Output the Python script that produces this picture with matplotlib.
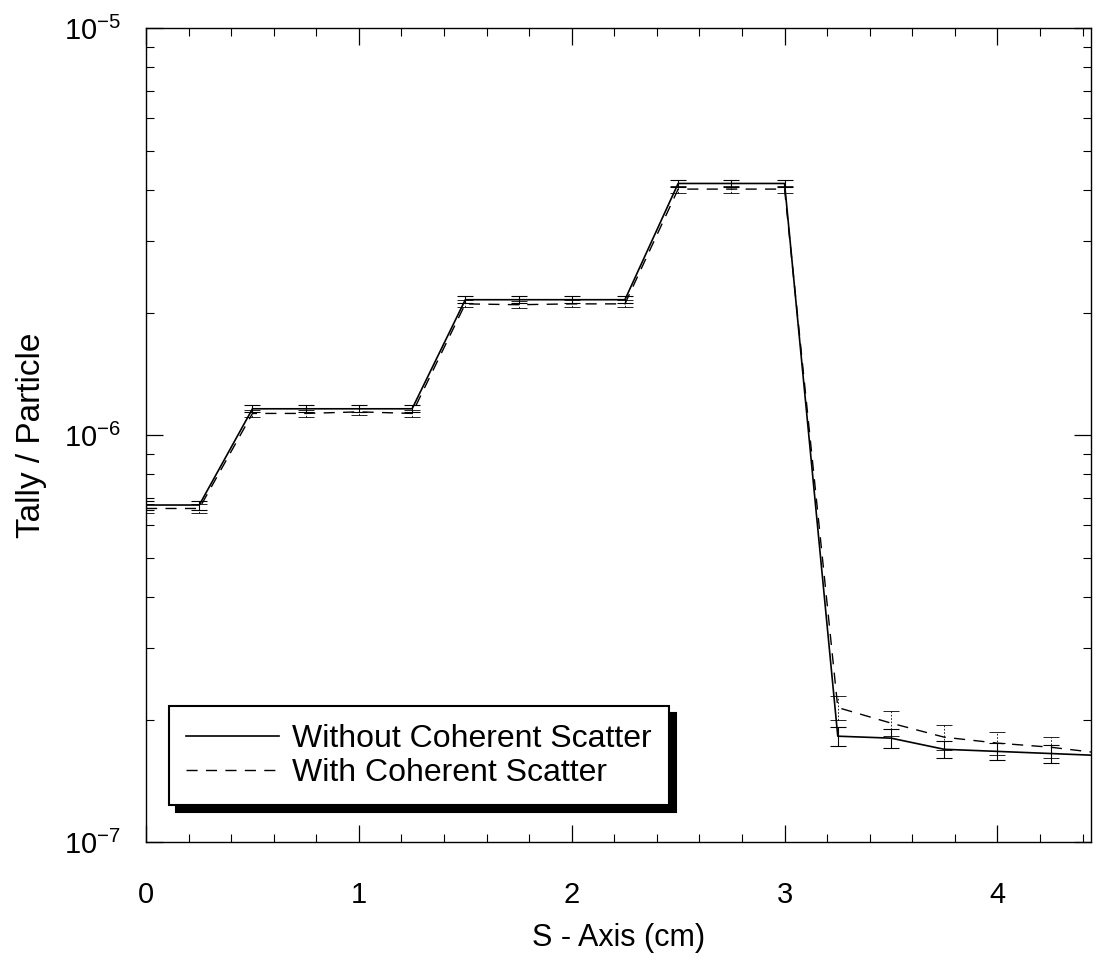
import numpy as np
import matplotlib
matplotlib.use("Agg")
import matplotlib.pyplot as plt
from matplotlib.ticker import FixedLocator, MultipleLocator, LogLocator, NullFormatter

plt.rcParams['font.family'] = ['Liberation Sans', 'DejaVu Sans']
plt.rcParams['mathtext.fontset'] = 'custom'
plt.rcParams['mathtext.rm'] = 'Liberation Sans'
plt.rcParams['mathtext.it'] = 'Liberation Sans'
plt.rcParams['axes.unicode_minus'] = False

# S-axis positions (cm)
s_pos = [0.0, 0.25, 0.5, 0.75, 1.0, 1.25, 1.5, 1.75, 2.0, 2.25,
         2.5, 2.75, 3.0, 3.25, 3.5, 3.75, 4.0, 4.25, 4.5]

# Tally / particle
tally_without = [6.73e-7, 6.73e-7, 1.16e-6, 1.16e-6, 1.16e-6, 1.16e-6,
                 2.15e-6, 2.15e-6, 2.15e-6, 2.15e-6,
                 4.15e-6, 4.15e-6, 4.15e-6,
                 1.82e-7, 1.80e-7, 1.69e-7, 1.67e-7, 1.65e-7, 1.63e-7]
tally_with = [6.60e-7, 6.60e-7, 1.13e-6, 1.13e-6, 1.14e-6, 1.13e-6,
              2.10e-6, 2.09e-6, 2.10e-6, 2.10e-6,
              4.02e-6, 4.02e-6, 4.02e-6,
              2.14e-7, 1.96e-7, 1.81e-7, 1.75e-7, 1.71e-7, 1.65e-7]

# relative errors
rel_err_without = [0.025, 0.025, 0.02, 0.02, 0.02, 0.02,
                   0.02, 0.02, 0.02, 0.02,
                   0.02, 0.02, 0.02,
                   0.055, 0.055, 0.05, 0.05, 0.05, 0.05]
rel_err_with = [0.025, 0.025, 0.02, 0.02, 0.02, 0.02,
                0.02, 0.02, 0.02, 0.02,
                0.02, 0.02, 0.02,
                0.07, 0.07, 0.07, 0.065, 0.06, 0.06]

labels = ["Without Coherent Scatter", "With Coherent Scatter"]

x = np.array(s_pos)
y1 = np.array(tally_without)
y2 = np.array(tally_with)
e1 = y1 * np.array(rel_err_without)
e2 = y2 * np.array(rel_err_with)

fig = plt.figure(figsize=(10.94, 9.56), dpi=100)
ax = fig.add_axes([0.1335, 0.1192, 0.8638, 0.8515])

l1 = ax.errorbar(x, y1, yerr=e1, color='black', lw=1.2, elinewidth=0.8,
                 capsize=6, capthick=0.8, label=labels[0])
l2 = ax.errorbar(x, y2, yerr=e2, color='black', lw=1.0, ls=(0, (8, 6)),
                 elinewidth=0.6, capsize=6, capthick=0.6, label=labels[1])
l2[2][0].set_linestyle((0, (2, 2)))

ax.set_yscale('log')
ax.set_xlim(0, 4.44)
ax.set_ylim(1e-7, 1e-5)

ax.xaxis.set_major_locator(FixedLocator([0, 1, 2, 3, 4]))
ax.xaxis.set_minor_locator(MultipleLocator(0.2))
ax.yaxis.set_major_locator(FixedLocator([1e-7, 1e-6, 1e-5]))
ax.yaxis.set_minor_locator(LogLocator(base=10, subs=np.arange(2, 10)))
ax.yaxis.set_minor_formatter(NullFormatter())
ax.set_yticklabels([r'$10^{-7}$', r'$10^{-6}$', r'$10^{-5}$'])

ax.tick_params(which='both', direction='in', top=True, right=True, labelsize=21)
ax.tick_params(which='major', length=12, width=0.9)
ax.tick_params(which='minor', length=6, width=0.8)
ax.tick_params(axis='x', which='major', pad=28)
ax.tick_params(axis='y', which='major', pad=18)

for sp in ax.spines.values():
    sp.set_linewidth(1.0)
    sp.set_color('black')

ax.set_xlabel("S - Axis (cm)", fontsize=22, labelpad=10)
ax.set_ylabel("Tally / Particle", fontsize=24, labelpad=12)

leg = ax.legend(handles=[l1[0], l2[0]], labels=labels, loc='lower left',
                bbox_to_anchor=(0.024, 0.045), fontsize=23, frameon=True,
                fancybox=False, handlelength=2.9, handletextpad=0.4,
                labelspacing=0.12, borderpad=0.55, borderaxespad=0,
                shadow={'ox': 5, 'oy': -5, 'color': 'black', 'alpha': 1})
leg.get_frame().set_edgecolor('black')
leg.get_frame().set_linewidth(1.5)

fig.savefig("out.png", dpi=100)
